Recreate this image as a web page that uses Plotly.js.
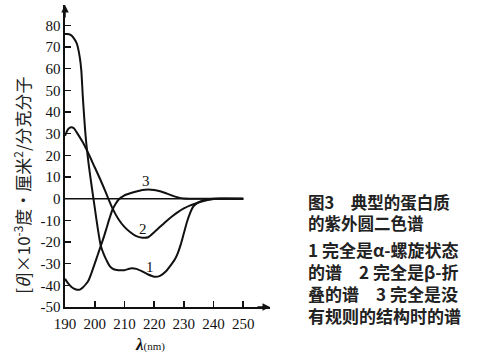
<!DOCTYPE html>
<html>
<head>
<meta charset="utf-8">
<script src="https://cdn.plot.ly/plotly-3.0.1.min.js"></script>
<style>html,body{margin:0;padding:0;background:#fff;}#chart{width:480px;height:357px;}</style>
</head>
<body>
<div id="chart"></div>
<script>
// ---- data ----
const wl1 = [190,191,192,193,194,195,195.5,196,197,198,199,200,201,202,203,204,205,206,207,208,210,212,214,216,218,220,222,224,226,227,228,229,230,231,232,233,234,236,238,240,250];
const helix = [76,76,75.5,74,71.5,65,59,47,28,15.5,5.5,-4,-13.5,-21.5,-25.5,-28.5,-31,-32.3,-32.8,-33,-33,-32.2,-32.4,-33.6,-35,-36,-35.6,-33.5,-30,-28,-25,-21,-16,-11,-7,-4,-2.5,-1,-0.3,0,0];

const wl2 = [190,191,192,193,194,196,198,200,202,204,206,208,210,212,214,216,218,220,222,224,226,228,230,232,234,236,238,240,242,250];
const sheet = [29,32,33,32.5,30.5,26,20.5,14.5,8.5,2,-4.5,-9.5,-13,-15.5,-17.3,-18,-17.8,-15.5,-13,-10.5,-8.2,-6.2,-4.5,-3.2,-2.2,-1.3,-0.6,-0.1,0,0];

const wl3 = [190,191,192,193,194,195,196,197,198,199,200,201,202,203,204,205,206,207,208,210,212,214,216,218,220,222,224,226,228,230,232,250];
const coil = [-37,-39,-40.5,-41.5,-42,-42,-41,-39.5,-37.5,-34,-30,-26,-22,-18,-13.5,-9,-5,-2.5,-0.5,1.5,2.5,3.3,4,4.2,4,3.4,2.5,1.5,0.6,0.1,0,0];

const zeroX = [190, 250];
const zeroY = [0, 0];

const xTickVals = [190,200,210,220,230,240,250];
const xTickText = ['190','200','210','220','230','240','250'];
const yTickVals = [-50,-40,-30,-20,-10,0,10,20,30,40,50,60,70,80];
const yTickText = ['-50','-40','-30','-20','-10','0','10','20','30','40','50','60','70','80'];

const curveLabels = ['1','2','3'];
const curveLabelX = [218.6, 216.3, 217.3];
const curveLabelY = [-31.5, -14, 8.3];

const yTitle = '[<i>θ</i>]×10<sup>-3</sup>度·厘米<sup>2</sup>/分克分子';
const captionTitle = ['图3　典型的蛋白质','的紫外圆二色谱'];
const captionNotes = ['1 完全是α-螺旋状态','的谱　2 完全是β-折','叠的谱　3 完全是没','有规则的结构时的谱'];

// ---- layout geometry (pixels) ----
const L = 65, R = 270, T = 5, B = 307.5, W = 480, H = 357;
const px2paperX = p => (p - L) / (R - L);
const px2paperY = p => (B - p) / (B - T);

const lineStyle = {color: '#111', width: 2, shape: 'spline', smoothing: 0.6};
const traces = [
  {x: zeroX, y: zeroY, mode: 'lines', line: {color: '#111', width: 1.6}, hoverinfo: 'skip'},
  {x: wl1, y: helix, mode: 'lines', line: lineStyle, name: '1'},
  {x: wl2, y: sheet, mode: 'lines', line: lineStyle, name: '2'},
  {x: wl3, y: coil, mode: 'lines', line: lineStyle, name: '3'}
];

const serif = 'Liberation Serif, DejaVu Serif, serif';
const cjk = 'Noto Sans CJK SC, sans-serif';

const annotations = [];
curveLabels.forEach((t, i) => annotations.push({
  x: curveLabelX[i], y: curveLabelY[i], xref: 'x', yref: 'y', text: t, showarrow: false,
  xanchor: 'center', yanchor: 'middle',
  font: {family: serif, size: 15, color: '#111'}
}));
// axis arrows
annotations.push({x: 190, y: 89.4, xref: 'x', yref: 'y', ax: 0, ay: 14, text: '', showarrow: true,
  arrowhead: 2, arrowsize: 1, arrowwidth: 1.5, arrowcolor: '#111'});
annotations.push({x: 259, y: -50, xref: 'x', yref: 'y', ax: -14, ay: 0, text: '', showarrow: true,
  arrowhead: 2, arrowsize: 1, arrowwidth: 1.5, arrowcolor: '#111'});
// y title
annotations.push({x: px2paperX(22), y: px2paperY(186), xref: 'paper', yref: 'paper', text: yTitle,
  xanchor: 'center', yanchor: 'middle',
  textangle: -90, showarrow: false, font: {family: cjk, size: 17, color: '#222'}});
// x title
annotations.push({x: px2paperX(150), y: px2paperY(345), xref: 'paper', yref: 'paper',
  xanchor: 'center', yanchor: 'middle',
  text: '<b><i>λ</i></b><span style="font-size:11px">(nm)</span>', showarrow: false,
  font: {family: serif, size: 17, color: '#111'}});
// caption (two blocks)
annotations.push({
  x: px2paperX(306), y: px2paperY(212.5), xref: 'paper', yref: 'paper',
  xanchor: 'left', yanchor: 'middle', align: 'left',
  text: captionTitle.map(t => '<b>' + t + '</b>').join('<br>'), showarrow: false,
  font: {family: cjk, size: 16.5, color: '#222'}
});
annotations.push({
  x: px2paperX(306), y: px2paperY(282.5), xref: 'paper', yref: 'paper',
  xanchor: 'left', yanchor: 'middle', align: 'left',
  text: captionNotes.map(t => '<b>' + t + '</b>').join('<br>'), showarrow: false,
  font: {family: cjk, size: 17, color: '#222'}
});

const layout = {
  width: W, height: H,
  margin: {l: L, r: W - R, t: T, b: H - B, pad: 0},
  paper_bgcolor: '#fff', plot_bgcolor: '#fff',
  showlegend: false,
  xaxis: {range: [190, 259], showgrid: false, zeroline: false, showline: true, linecolor: '#111', linewidth: 1.6,
    ticks: 'inside', ticklen: 6, tickwidth: 1.6, tickcolor: '#111', tickvals: xTickVals, ticktext: xTickText,
    tickfont: {family: serif, size: 15, color: '#111'}, ticklabelstandoff: 2},
  yaxis: {range: [-50, 89.4], showgrid: false, zeroline: false, showline: true, linecolor: '#111', linewidth: 1.6,
    ticks: 'inside', ticklen: 6, tickwidth: 1.6, tickcolor: '#111', tickvals: yTickVals, ticktext: yTickText,
    tickfont: {family: serif, size: 15, color: '#111'}},
  annotations: annotations
};

Plotly.newPlot('chart', traces, layout, {staticPlot: true, displayModeBar: false});
</script>
</body>
</html>
